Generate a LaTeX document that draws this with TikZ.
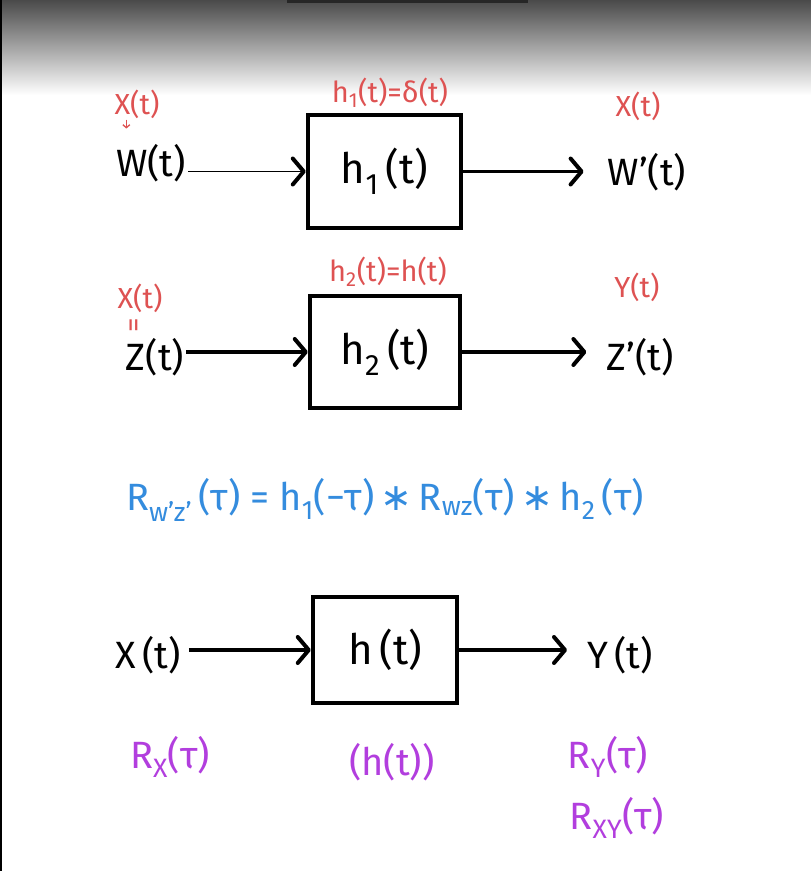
\documentclass[tikz,border=0pt]{standalone}
\usepackage{fontspec}
\setmainfont{Fira Sans}
\newfontfamily\symfont{DejaVu Sans}
\usetikzlibrary{arrows.meta}
\definecolor{inkred}{RGB}{222,82,82}
\definecolor{inkblue}{RGB}{52,140,222}
\definecolor{inkpurple}{RGB}{178,62,222}
\definecolor{topgray}{RGB}{74,74,74}
\newcommand{\sbs}[1]{\textsubscript{#1}}
\newcommand{\conv}{\,{\symfont ∗}\,}
\tikzset{
  sysbox/.style={draw=black, line width=4.5pt, fill=white, inner sep=0pt, font=\fontsize{42}{48}\selectfont},
  sig/.style={text=black, inner sep=2pt, font=\fontsize{38}{44}\selectfont},
  redlbl/.style={text=inkred, inner sep=1pt, font=\fontsize{29}{34}\selectfont},
  purlbl/.style={text=inkpurple, inner sep=1pt, font=\fontsize{38}{44}\selectfont},
  bluelbl/.style={text=inkblue, inner sep=1pt, font=\fontsize{38}{44}\selectfont},
  flow/.style={line width=3.8pt, -{Straight Barb[length=11pt,width=26pt,line width=4pt,round]}},
  thinflow/.style={line width=1.4pt, -{Straight Barb[length=11pt,width=26pt,line width=4pt,round]}}
}
\begin{document}
\begin{tikzpicture}[x=1pt,y=-1pt]
\useasboundingbox (0,0) rectangle (811,871);
\fill[white] (0,0) rectangle (811,871);
\shade[top color=topgray, bottom color=white] (0,0) rectangle (811,95);
\fill[black!85] (287,0) rectangle (528,2.5);
\fill[black] (0,0) rectangle (2,871);

% ---- row 1
\node[sysbox, minimum width=153pt, minimum height=113pt] (b1) at (384.5,171.5) {h\sbs{1}\,(t)};
\node[sig] (w) at (151,163) {W(t)};
\node[sig] (w2) at (647,172) {W'(t)};
\node[redlbl] (xw) at (137,104) {X(t)};
\node[redlbl] (h1def) at (390,93) {h\sbs{1}(t)=δ(t)};
\node[redlbl] (xw2) at (638,106) {X(t)};
\draw[thinflow] (w.east |- b1) -- (b1);
\draw[flow, shorten >=22pt] (b1) -- (b1 -| w2.west);
\draw[inkred, line width=1.3pt, -{Straight Barb[length=3pt,width=7pt]}] (xw.south west) ++(13,0) coordinate (vtop) -- ++(0,9);

% ---- row 2
\node[sysbox, minimum width=150pt, minimum height=112pt] (b2) at (385,352) {h\sbs{2}\,(t)};
\node[sig] (z) at (155,357) {Z(t)};
\node[sig] (z2) at (640,357) {Z'(t)};
\node[redlbl] (xz) at (140,298) {X(t)};
\node[redlbl, rotate=90] (eqz) at (137,325) {=};
\node[redlbl] (h2def) at (388,272) {h\sbs{2}(t)=h(t)};
\node[redlbl] (yz2) at (637,287) {Y(t)};
\draw[flow] (z.east |- b2) -- (b2);
\draw[flow, shorten >=18pt] (b2) -- (b2 -| z2.west);

% ---- equation
\node[bluelbl] (eq) at (385,500) {R\sbs{w'z'}\,(τ) = h\sbs{1}(−τ)\conv R\sbs{wz}(τ)\conv h\sbs{2}\,(τ)};

% ---- row 3
\node[sysbox, minimum width=144pt, minimum height=106pt] (b3) at (385,650) {h\,(t)};
\node[sig] (x) at (148,655) {X\,(t)};
\node[sig] (y) at (620,655) {Y\,(t)};
\draw[flow, shorten <=6pt] (x.east |- b3) -- (b3);
\draw[flow, shorten >=18pt] (b3) -- (b3 -| y.west);

\node[purlbl] (rx) at (170,757) {R\sbs{X}(τ)};
\node[purlbl] (hh) at (392,762) {(h(t))};
\node[purlbl] (ry) at (608,757) {R\sbs{Y}(τ)};
\node[purlbl] (rxy) at (617,818) {R\sbs{XY}(τ)};
\end{tikzpicture}
\end{document}
